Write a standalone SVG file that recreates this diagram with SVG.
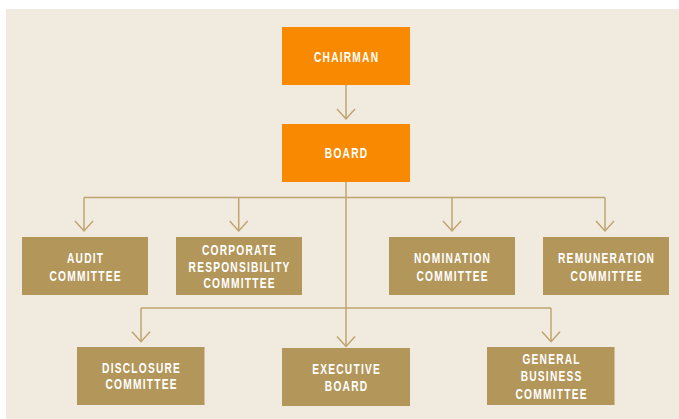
<svg xmlns="http://www.w3.org/2000/svg" width="679" height="419" viewBox="0 0 679 419">
  <defs>
    <style>
      .bg { fill: #F1EADE; }
      .top { fill: #F98A00; }
      .com { fill: #B3965A; }
      .lbl { font-family: "Liberation Sans", Arial, sans-serif; font-weight: bold; font-size: 15px; fill: #FFFFFF; text-anchor: middle; letter-spacing: 1.8px; }
      .wire { fill: none; stroke: #BFA46F; stroke-width: 1.5; }
    </style>
    <marker id="arrow" markerUnits="userSpaceOnUse" markerWidth="24" markerHeight="24" orient="auto" refX="0" refY="0" viewBox="-12 -12 24 24" overflow="visible">
      <path d="M-10,-9 L0,0 L-10,9" fill="none" stroke="#BFA46F" stroke-width="1.5"/>
    </marker>
  </defs>

  <rect class="bg" x="6" y="9" width="673" height="410"/>

  <!-- connectors -->
  <g id="connectors" class="wire">
    <path d="M346,85 V119" marker-end="url(#arrow)"/>
    <path d="M346,182 V346.5" marker-end="url(#arrow)"/>
    <path d="M84,197.5 H605"/>
    <path d="M84,197.5 V231" marker-end="url(#arrow)"/>
    <path d="M238.7,197.5 V231" marker-end="url(#arrow)"/>
    <path d="M452,197.5 V231" marker-end="url(#arrow)"/>
    <path d="M605,197.5 V231" marker-end="url(#arrow)"/>
    <path d="M141,308 H551"/>
    <path d="M141,308 V341.7" marker-end="url(#arrow)"/>
    <path d="M551,308 V341.7" marker-end="url(#arrow)"/>
  </g>

  <!-- nodes -->
  <g id="chairman">
    <rect class="top" x="282" y="27" width="128" height="58"/>
    <text class="lbl" transform="translate(346.6 0) scale(0.68 1)"><tspan x="0" y="61.7">CHAIRMAN</tspan></text>
  </g>
  <g id="board">
    <rect class="top" x="282" y="124" width="128" height="58"/>
    <text class="lbl" transform="translate(346.6 0) scale(0.68 1)"><tspan x="0" y="158.5">BOARD</tspan></text>
  </g>

  <g id="audit">
    <rect class="com" x="22" y="237" width="126" height="58"/>
    <text class="lbl" transform="translate(85.6 0) scale(0.68 1)"><tspan x="0" y="262.9">AUDIT</tspan><tspan x="0" y="280.9">COMMITTEE</tspan></text>
  </g>
  <g id="corporate-responsibility">
    <rect class="com" x="176" y="237" width="126" height="58"/>
    <text class="lbl" transform="translate(239.6 0) scale(0.68 1)"><tspan x="0" y="255.2">CORPORATE</tspan><tspan x="0" y="271.9">RESPONSIBILITY</tspan><tspan x="0" y="288.2">COMMITTEE</tspan></text>
  </g>
  <g id="nomination">
    <rect class="com" x="389" y="237" width="126" height="58"/>
    <text class="lbl" transform="translate(452.6 0) scale(0.68 1)"><tspan x="0" y="262.9">NOMINATION</tspan><tspan x="0" y="280.9">COMMITTEE</tspan></text>
  </g>
  <g id="remuneration">
    <rect class="com" x="543" y="237" width="126" height="58"/>
    <text class="lbl" transform="translate(606.6 0) scale(0.68 1)"><tspan x="0" y="262.9">REMUNERATION</tspan><tspan x="0" y="280.9">COMMITTEE</tspan></text>
  </g>

  <g id="disclosure">
    <rect class="com" x="77" y="347" width="127.5" height="58"/>
    <text class="lbl" transform="translate(141.6 0) scale(0.68 1)"><tspan x="0" y="372.8">DISCLOSURE</tspan><tspan x="0" y="389.5">COMMITTEE</tspan></text>
  </g>
  <g id="executive-board">
    <rect class="com" x="282" y="348" width="128" height="58"/>
    <text class="lbl" transform="translate(346.6 0) scale(0.68 1)"><tspan x="0" y="374.5">EXECUTIVE</tspan><tspan x="0" y="391">BOARD</tspan></text>
  </g>
  <g id="general-business">
    <rect class="com" x="487" y="347" width="127.5" height="58"/>
    <text class="lbl" transform="translate(551.6 0) scale(0.68 1)"><tspan x="0" y="363.6">GENERAL</tspan><tspan x="0" y="381.2">BUSINESS</tspan><tspan x="0" y="398.6">COMMITTEE</tspan></text>
  </g>
</svg>
